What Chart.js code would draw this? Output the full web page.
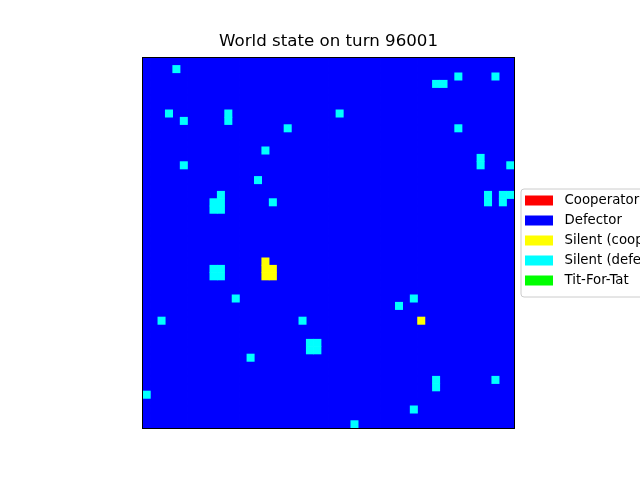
<!DOCTYPE html>
<html>
<head>
<meta charset="utf-8">
<title>World state</title>
<script src="https://cdn.jsdelivr.net/npm/chart.js@4/dist/chart.umd.min.js"></script>
<style>
    html, body { margin:0; padding:0; background:#fff; overflow:hidden; }
    #wrap { width:640px; height:480px; position:relative; }
</style>
</head>
<body>
<div id="wrap"><canvas id="world" width="640" height="480"></canvas></div>
<script>
var gridSize = 50;
var stateNames  = [ 'Cooperator', 'Defector', 'Silent (cooperator)', 'Silent (defector)', 'Tit-For-Tat' ];
var stateColors = [ '#ff0000', '#0000ff', '#ffff00', '#00ffff', '#00ff00' ];

// cells as [column, row], row 0 at the top
var cooperatorCells = [];
var titForTatCells  = [];
var silentCoopCells = [ [16,27],[16,28],[17,28],[16,29],[17,29],[37,35] ];
var silentDefCells  = [
    [4,1],[3,7],[5,8],[11,7],[11,8],[19,9],[16,12],[5,14],[15,16],
    [10,18],[9,19],[10,19],[9,20],[10,20],[17,19],
    [42,2],[47,2],[39,3],[40,3],[26,7],[42,9],[45,13],[45,14],[49,14],
    [46,18],[46,19],[48,18],[49,18],[48,19],
    [9,28],[10,28],[9,29],[10,29],[12,32],[2,35],[21,35],
    [22,38],[23,38],[22,39],[23,39],[14,40],[0,45],
    [36,32],[34,33],[39,43],[39,44],[47,43],[36,47],[28,49]
];

// every cell not listed above is a defector
var taken = {};
[ cooperatorCells, titForTatCells, silentCoopCells, silentDefCells ].forEach( function( list ){
    list.forEach( function( c ){ taken[ c[0]+','+c[1] ] = 1; } );
} );
var defectorCells = [];
for( var r = 0; r < gridSize; r++ ){
    for( var c = 0; c < gridSize; c++ ){
        if( !taken[ c+','+r ] ) defectorCells.push( [ c, r ] );
    }
}

var cellLists = [ cooperatorCells, defectorCells, silentCoopCells, silentDefCells, titForTatCells ];

function toPoints( list ){
    return list.map( function( c ){ return { x: c[0] + 0.5, y: c[1] + 0.5 }; } );
}

// radius so that a 'rect' point covers one cell (plus a hair, to hide seams)
function cellRadius( ctx ){
    var area = ctx.chart.chartArea;
    if( !area ) return 5;
    return ( ( area.right - area.left ) / gridSize / 2 + 0.3 ) / Math.SQRT1_2;
}

var datasets = [];
// Chart.js paints the last dataset first, so defectors go last to end up underneath
[ 0, 2, 3, 4, 1 ].forEach( function( i ){
    datasets.push( {
        label: stateNames[ i ],
        data: toPoints( cellLists[ i ] ),
        backgroundColor: stateColors[ i ],
        borderColor: stateColors[ i ],
        borderWidth: i == 1 ? 1 : 0,
        pointStyle: 'rect',
        pointRadius: cellRadius,
        legendOrder: i
    } );
} );

var frameAndLegend = {
    id: 'frameAndLegend',
    afterDatasetsDraw: function( chart ){
        var ctx = chart.ctx, a = chart.chartArea;
        ctx.save();
        ctx.strokeStyle = '#000';
        ctx.lineWidth = 1;
        ctx.strokeRect( Math.round( a.left ) - 0.5, Math.round( a.top ) - 0.5,
                        Math.round( a.right - a.left ) + 1, Math.round( a.bottom - a.top ) + 1 );

        // legend box to the right of the axes, as matplotlib puts it
        var lx = 521, ly = 189, lw = 160, lh = 108, rad = 3;
        ctx.beginPath();
        ctx.moveTo( lx + rad, ly );
        ctx.lineTo( lx + lw - rad, ly );
        ctx.arcTo( lx + lw, ly, lx + lw, ly + rad, rad );
        ctx.lineTo( lx + lw, ly + lh - rad );
        ctx.arcTo( lx + lw, ly + lh, lx + lw - rad, ly + lh, rad );
        ctx.lineTo( lx + rad, ly + lh );
        ctx.arcTo( lx, ly + lh, lx, ly + lh - rad, rad );
        ctx.lineTo( lx, ly + rad );
        ctx.arcTo( lx, ly, lx + rad, ly, rad );
        ctx.closePath();
        ctx.fillStyle = 'rgba(255,255,255,0.8)';
        ctx.fill();
        ctx.strokeStyle = '#cccccc';
        ctx.stroke();

        var items = chart.data.datasets.slice().sort( function( p, q ){ return p.legendOrder - q.legendOrder; } );
        ctx.font = '13.3px "DejaVu Sans"';
        ctx.textBaseline = 'middle';
        items.forEach( function( ds, k ){
            var cy = 200.5 + k * 20;
            ctx.fillStyle = ds.backgroundColor;
            ctx.fillRect( 525, cy - 5, 28, 10 );
            ctx.fillStyle = '#000';
            ctx.fillText( ds.label, 564.5, cy );
        } );
        ctx.restore();
    }
};

new Chart( document.getElementById( 'world' ).getContext( '2d' ), {
    type: 'scatter',
    data: { datasets: datasets },
    options: {
        responsive: false,
        animation: false,
        events: [],
        layout: { padding: { left: 143, right: 126, top: 0, bottom: 52 } },
        scales: {
            x: { type: 'linear', min: 0, max: gridSize, display: false },
            y: { type: 'linear', min: 0, max: gridSize, reverse: true, display: false }
        },
        plugins: {
            legend: { display: false },
            tooltip: { enabled: false },
            title: {
                display: true,
                text: 'World state on turn 96001',
                color: '#000',
                font: { family: 'DejaVu Sans', size: 16.67, weight: 'normal' },
                padding: { top: 32, bottom: 6 }
            }
        }
    },
    plugins: [ frameAndLegend ]
} );
</script>
</body>
</html>
